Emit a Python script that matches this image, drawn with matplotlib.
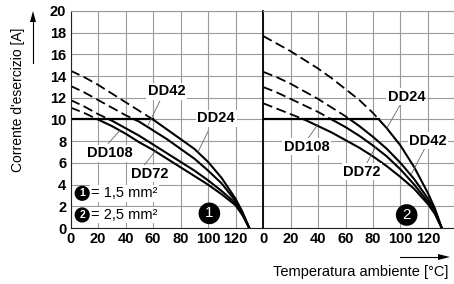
import numpy as np
import matplotlib.pyplot as plt

plt.rcParams['font.family'] = ['Liberation Sans', 'DejaVu Sans']

# temperature points (degC)
temp = [0, 10, 20, 30, 40, 50, 60, 70, 80, 90, 100, 110, 120, 125, 130]

# panel 1: 1,5 mm2
p1_dd24 = [14.5, 13.9, 13.2, 12.4, 11.6, 10.8, 10.0, 9.1, 8.2, 7.3, 6.1, 4.6, 2.7, 1.5, 0]
p1_dd42 = [13.1, 12.5, 11.8, 11.1, 10.4, 9.8, 9.0, 8.2, 7.3, 6.4, 5.3, 4.1, 2.5, 1.4, 0]
p1_dd72 = [11.8, 11.2, 10.5, 9.9, 9.2, 8.5, 7.7, 6.9, 6.1, 5.3, 4.4, 3.4, 2.3, 1.3, 0]
p1_dd108 = [11.1, 10.6, 10.0, 9.4, 8.7, 7.9, 7.2, 6.4, 5.6, 4.8, 4.0, 3.1, 2.1, 1.2, 0]

# panel 2: 2,5 mm2
p2_dd24 = [17.7, 17.0, 16.3, 15.5, 14.7, 13.8, 12.8, 11.8, 10.6, 9.2, 7.6, 5.6, 3.2, 1.8, 0]
p2_dd42 = [14.4, 13.9, 13.3, 12.6, 11.9, 11.1, 10.3, 9.4, 8.4, 7.3, 6.0, 4.5, 2.7, 1.6, 0]
p2_dd72 = [13.0, 12.5, 11.9, 11.3, 10.7, 10.0, 9.3, 8.5, 7.6, 6.6, 5.4, 4.0, 2.4, 1.4, 0]
p2_dd108 = [11.5, 11.0, 10.5, 10.0, 9.4, 8.8, 8.1, 7.4, 6.6, 5.7, 4.7, 3.6, 2.2, 1.3, 0]

max_current = 10.0
xticks = [0, 20, 40, 60, 80, 100, 120]
yticks = list(range(0, 21, 2))

# label text position, pointer start, pointer end (data coords)
p1_labels = [("DD42", (70, 12.6), (65, 11.7), (56.5, 9.5)),
             ("DD24", (106, 10.1), (100, 8.9), (92.7, 7.0)),
             ("DD108", (28.5, 6.9), (27.5, 7.8), (36, 9.0)),
             ("DD72", (58, 5.0), (53, 5.7), (63, 7.3))]
p2_labels = [("DD24", (104.5, 12.1), (99.6, 11.3), (90, 9.2)),
             ("DD42", (120, 8.05), (117.7, 7.35), (108, 5.0)),
             ("DD108", (31.8, 7.5), (31.8, 8.1), (40.2, 9.6)),
             ("DD72", (71.8, 5.2), (75.4, 5.96), (82, 7.5))]

GRID = '#9a9a9a'
FS = 10.5


def draw_curve(ax, x, y):
    x = np.asarray(x, float)
    y = np.asarray(y, float)
    xc = np.interp(max_current, y[::-1], x[::-1])
    hi = x < xc
    ax.plot(np.r_[x[hi], xc], np.r_[y[hi], max_current], color='black',
            lw=1.3, dashes=(5.5, 2.5), solid_capstyle='butt')
    lo = x > xc
    ax.plot(np.r_[xc, x[lo]], np.r_[max_current, y[lo]], color='black', lw=1.5)
    return xc


def draw_panel(ax, curves, labels, badge, badge_pos):
    ax.set_xlim(0, 140)
    ax.set_ylim(0, 20)
    ax.set_xticks(range(0, 141, 20))
    ax.set_xticklabels([str(t) if t in xticks else '' for t in range(0, 141, 20)])
    ax.set_yticks(yticks)
    ax.grid(True, color=GRID, lw=0.8)
    ax.set_axisbelow(True)
    ax.tick_params(length=0, pad=3, labelsize=FS)
    for lab in ax.get_xticklabels() + ax.get_yticklabels():
        lab.set_fontweight('bold')
    ax.spines['right'].set_visible(False)
    ax.spines['top'].set_color(GRID)
    ax.spines['top'].set_linewidth(0.8)
    ax.spines['bottom'].set_color('#222')
    xcs = [draw_curve(ax, temp, c) for c in curves]
    ax.plot([0, max(xcs)], [max_current, max_current], color='black', lw=1.6)
    for name, tpos, p0, p1 in labels:
        ax.plot([p0[0], p1[0]], [p0[1], p1[1]], color='#666', lw=0.6)
        ax.text(tpos[0], tpos[1], name, ha='center', va='center', fontsize=FS,
                fontweight='bold',
                bbox=dict(boxstyle='square,pad=0.1', fc='white', ec='none'))
    ax.text(badge_pos[0], badge_pos[1], badge, ha='center', va='center',
            fontsize=11, color='white',
            bbox=dict(boxstyle='circle,pad=0.25', fc='black', ec='none'))


fig = plt.figure(figsize=(4.54, 2.84), dpi=100)
ax1 = fig.add_axes([70.5 / 454, 56 / 284, 192.5 / 454, 217 / 284])
ax2 = fig.add_axes([263 / 454, 56 / 284, 192.5 / 454, 217 / 284])

draw_panel(ax1, [p1_dd24, p1_dd42, p1_dd72, p1_dd108], p1_labels, '1', (101, 1.35))
draw_panel(ax2, [p2_dd24, p2_dd42, p2_dd72, p2_dd108], p2_labels, '2', (104.5, 1.2))

ax1.spines['left'].set_color('#222')
ax2.spines['left'].set_color('black')
ax2.spines['left'].set_linewidth(1.3)
ax2.set_yticklabels([])

# legend for the cross sections
for num, y, txt in [('1', 3.2, '= 1,5 mm²'), ('2', 1.2, '= 2,5 mm²')]:
    ax1.text(8.5, y, num, ha='center', va='center', fontsize=7.5, color='white',
             fontweight='bold',
             bbox=dict(boxstyle='circle,pad=0.25', fc='black', ec='none'))
    ax1.text(15, y, txt, ha='left', va='center', fontsize=10.5,
             bbox=dict(boxstyle='square,pad=0.1', fc='white', ec='none'))

fig.text(18 / 454, 1 - 100 / 284, "Corrente d'esercizio [A]", rotation=90,
         ha='center', va='center', fontsize=10)
fig.text(448 / 454, 1 - 272 / 284, "Temperatura ambiente [°C]",
         ha='right', va='center', fontsize=10.5)
fig.add_artist(plt.Line2D([33 / 454, 33 / 454], [1 - 63 / 284, 1 - 20 / 284],
                          color='black', lw=0.8))
fig.patches.append(plt.Polygon([[30 / 454, 1 - 22 / 284], [36 / 454, 1 - 22 / 284],
                                [33 / 454, 1 - 11 / 284]], closed=True, fc='black',
                               transform=fig.transFigure, figure=fig))
fig.add_artist(plt.Line2D([400 / 454, 440 / 454], [1 - 257 / 284, 1 - 257 / 284],
                          color='black', lw=0.8))
fig.patches.append(plt.Polygon([[438 / 454, 1 - 254 / 284], [438 / 454, 1 - 260 / 284],
                                [450 / 454, 1 - 257 / 284]], closed=True, fc='black',
                               transform=fig.transFigure, figure=fig))

fig.savefig('out.png', dpi=100)
